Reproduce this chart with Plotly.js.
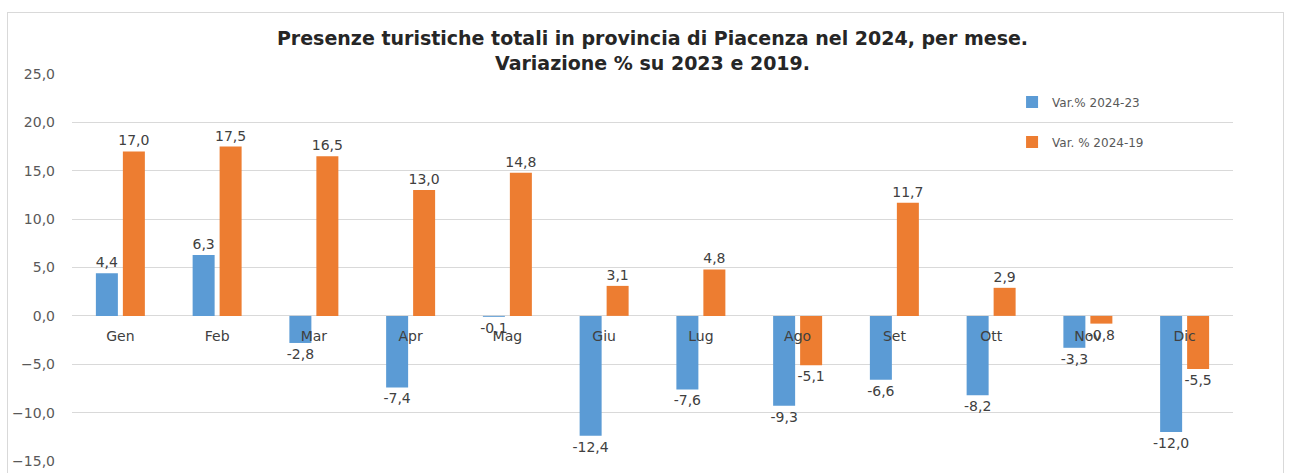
<!DOCTYPE html>
<html>
<head>
<meta charset="utf-8">
<script src="https://cdn.plot.ly/plotly-3.0.1.min.js"></script>
<style>
  html, body { margin: 0; padding: 0; background: #fff; }
  #wrap { position: relative; width: 1290px; height: 473px; overflow: hidden; }
  #chart { width: 1290px; height: 473px; }
  #frame { position: absolute; left: 7px; top: 12px; width: 1275px; height: 480px;
           border: 1px solid #d9d9d9; pointer-events: none; }
</style>
</head>
<body>
<div id="wrap"><div id="chart"></div><div id="frame"></div></div>
<script>
const months = ["Gen","Feb","Mar","Apr","Mag","Giu","Lug","Ago","Set","Ott","Nov","Dic"];
const var2024_23 = [4.4, 6.3, -2.8, -7.4, -0.1, -12.4, -7.6, -9.3, -6.6, -8.2, -3.3, -12.0];
const var2024_19 = [17.0, 17.5, 16.5, 13.0, 14.8, 3.1, 4.8, -5.1, 11.7, 2.9, -0.8, -5.5];
const seriesNames = ["Var.% 2024-23", "Var. % 2024-19"];
const yTicks = [-15, -10, -5, 0, 5, 10, 15, 20, 25];

const FONT = "DejaVu Sans, Open Sans, sans-serif";
const labelFont = { family: FONT, size: 14, color: "#404040" };

const traces = [
  { type: "bar", name: seriesNames[0], x: months, y: var2024_23,
    marker: { color: "#5B9BD5" }, legendgroup: "a",
    texttemplate: "%{y:.1f}", textposition: "outside", constraintext: "none",
    cliponaxis: false, textfont: labelFont, outsidetextfont: labelFont, hoverinfo: "x+y+name" },
  { type: "bar", name: seriesNames[1], x: months, y: var2024_19,
    marker: { color: "#ED7D31" }, legendgroup: "b",
    texttemplate: "%{y:.1f}", textposition: "outside", constraintext: "none",
    cliponaxis: false, textfont: labelFont, outsidetextfont: labelFont, hoverinfo: "x+y+name" }
];

const layout = {
  width: 1290, height: 473,
  margin: { l: 72, r: 57, t: 74, b: 12 },
  paper_bgcolor: "#ffffff", plot_bgcolor: "#ffffff",
  separators: ",.",
  font: { family: FONT, color: "#595959" },
  title: {
    text: "<b>Presenze turistiche totali in provincia di Piacenza nel 2024, per mese.</b><br><b>Variazione % su 2023 e 2019.</b>",
    font: { family: FONT, size: 19, color: "#262626" },
    x: 0.5, xref: "paper", xanchor: "center",
    y: 1 - 45 / 473, yref: "container", yanchor: "top"
  },
  barmode: "group",
  bargap: 0.442,
  bargroupgap: 0.185,
  showlegend: true,
  legend: {
    x: 0.8097, xanchor: "left", y: 0.965, yanchor: "top",
    bgcolor: "rgba(0,0,0,0)",
    font: { family: FONT, size: 12, color: "#595959" },
    traceorder: "grouped", tracegroupgap: 21
  },
  xaxis: {
    type: "category",
    anchor: "free", position: 0.375,
    showgrid: false, showline: false, zeroline: false,
    ticks: "", ticklabelstandoff: 10,
    tickfont: { family: FONT, size: 14, color: "#404040" },
    fixedrange: true
  },
  yaxis: {
    range: [-15, 25],
    tickvals: yTicks,
    tickformat: ".1f",
    showgrid: true, gridcolor: "#d9d9d9", gridwidth: 1,
    zeroline: true, zerolinecolor: "#d9d9d9", zerolinewidth: 1,
    showline: false, ticks: "", ticklabelstandoff: 16,
    tickfont: { family: FONT, size: 14, color: "#595959" },
    fixedrange: true
  }
};

Plotly.newPlot("chart", traces, layout, { displayModeBar: false, staticPlot: true });
</script>
</body>
</html>
